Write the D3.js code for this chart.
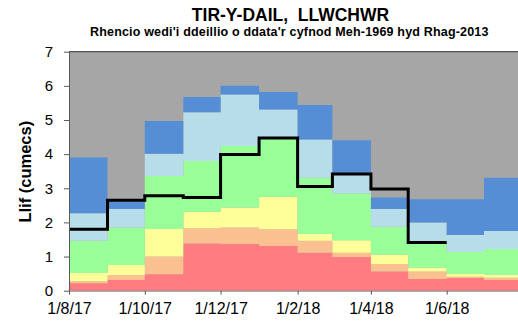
<!DOCTYPE html>
<html>
<head>
<meta charset="utf-8">
<script src="https://cdn.jsdelivr.net/npm/d3@7"></script>
<style>
  html, body { margin: 0; padding: 0; background: #fff; }
  svg { display: block; font-family: Arial, "Liberation Sans", sans-serif; }
</style>
</head>
<body>
<svg id="chart" width="518" height="321"></svg>
<script>
// Monthly flow bands (upper limit of each band, cumecs), Aug 2017 - Jul 2018
const months = ["2017-08","2017-09","2017-10","2017-11","2017-12","2018-01",
                "2018-02","2018-03","2018-04","2018-05","2018-06","2018-07"];
const bandRed    = [0.22, 0.31, 0.48, 1.38, 1.37, 1.31, 1.11, 0.99, 0.56, 0.34, 0.37, 0.31];
const bandSalmon = [0.28, 0.46, 1.00, 1.83, 1.85, 1.80, 1.46, 1.11, 0.78, 0.56, 0.41, 0.38];
const bandYellow = [0.52, 0.75, 1.81, 2.31, 2.44, 2.75, 1.66, 1.48, 1.05, 0.68, 0.49, 0.46];
const bandGreen  = [1.46, 1.85, 3.36, 3.80, 4.24, 4.45, 3.31, 2.85, 1.87, 1.40, 1.13, 1.22];
const bandLBlue  = [2.27, 2.39, 4.01, 5.23, 5.75, 5.31, 4.43, 3.40, 2.39, 2.00, 1.63, 1.75];
const bandBlue   = [3.90, 2.61, 4.97, 5.67, 6.00, 5.82, 5.44, 4.41, 2.73, 2.68, 2.68, 3.31];

// Observed monthly mean flow, Aug 2017 - May 2018
const flowMonths = months.slice(0, 10);
const flowValues = [1.80, 2.65, 2.78, 2.73, 3.99, 4.47, 3.05, 3.42, 2.98, 1.41];

const yTicks = [0, 1, 2, 3, 4, 5, 6, 7];
const xTickDates = ["2017-08-01","2017-10-01","2017-12-01","2018-02-01","2018-04-01","2018-06-01"];

const bandColors = ["#FF7C80", "#FAC090", "#FFFF99", "#99FF99", "#B7DDE8", "#558ED5"];
const bands = [bandRed, bandSalmon, bandYellow, bandGreen, bandLBlue, bandBlue];

const svg = d3.select("#chart");
const W = 518;
const plot = { left: 69, top: 51.7, bottom: 290.7 };

const parseMonth = s => { const [y, m] = s.split("-").map(Number); return new Date(Date.UTC(y, m - 1, 1)); };
const parseDay = s => { const [y, m, d] = s.split("-").map(Number); return new Date(Date.UTC(y, m - 1, d)); };

const start = parseMonth(months[0]);
const end = d3.utcMonth.offset(parseMonth(months[months.length - 1]), 1);

const x = d3.scaleUtc().domain([start, end]).range([plot.left, 522.5]);
const y = d3.scaleLinear().domain([0, 7]).range([plot.bottom, plot.top]);

// grey background band (above all ranks)
svg.append("rect")
  .attr("x", x(start)).attr("y", y(7))
  .attr("width", W - x(start)).attr("height", y(0) - y(7))
  .attr("fill", "#A6A6A6");

// stacked step bands
const monthDates = months.map(parseMonth).concat([end]);
bands.forEach((band, i) => {
  const lower = i === 0 ? months.map(() => 0) : bands[i - 1];
  const pts = monthDates.map((d, j) => {
    const k = Math.min(j, months.length - 1);
    return { d, y0: lower[k], y1: band[k] };
  });
  const area = d3.area()
    .curve(d3.curveStepAfter)
    .x(p => x(p.d))
    .y0(p => y(p.y0))
    .y1(p => y(p.y1));
  svg.append("path").datum(pts).attr("d", area).attr("fill", bandColors[i]);
});

// observed flow step line
const flowDates = flowMonths.map(parseMonth);
const flowEnd = d3.utcMonth.offset(flowDates[flowDates.length - 1], 1);
const flowPts = flowDates.map((d, j) => ({ d, v: flowValues[j] }))
  .concat([{ d: flowEnd, v: flowValues[flowValues.length - 1] }]);
svg.append("path").datum(flowPts)
  .attr("d", d3.line().curve(d3.curveStepAfter).x(p => x(p.d)).y(p => y(p.v)))
  .attr("fill", "none").attr("stroke", "#000").attr("stroke-width", 3)
  .attr("stroke-linejoin", "miter");

// top border of plot
svg.append("line")
  .attr("x1", x(start)).attr("x2", W)
  .attr("y1", y(7)).attr("y2", y(7))
  .attr("stroke", "#333").attr("stroke-width", 1);

// axes
const yAxis = d3.axisLeft(y).tickValues(yTicks).tickFormat(d3.format("d"))
  .tickSize(5).tickSizeOuter(0).tickPadding(11);
const gy = svg.append("g").attr("transform", `translate(${plot.left},0)`).call(yAxis);
gy.select(".domain").attr("stroke", "#595959");
gy.selectAll(".tick line").attr("stroke", "#595959");
gy.selectAll("text").attr("font-size", 15).attr("fill", "#000")
  .attr("font-family", "Arial, 'Liberation Sans', sans-serif");

const fmt = d3.utcFormat("%-d/%-m/%y");
const xAxis = d3.axisBottom(x).tickValues(xTickDates.map(parseDay)).tickFormat(fmt)
  .tickSize(4).tickSizeOuter(0).tickPadding(7.5);
const gx = svg.append("g").attr("transform", `translate(0,${plot.bottom})`).call(xAxis);
gx.select(".domain").attr("stroke", "#868686");
gx.selectAll(".tick line").attr("stroke", "#595959");
gx.selectAll("text").attr("font-size", 16).attr("fill", "#000")
  .attr("font-family", "Arial, 'Liberation Sans', sans-serif");

// titles
svg.append("text")
  .attr("x", 290.5).attr("y", 21).attr("text-anchor", "middle")
  .attr("font-size", 17.5).attr("font-weight", "bold")
  .style("white-space", "pre")
  .text("TIR-Y-DAIL,  LLWCHWR");
svg.append("text")
  .attr("x", 289.3).attr("y", 36).attr("text-anchor", "middle")
  .attr("font-size", 12.5).attr("font-weight", "bold")
  .attr("letter-spacing", 0.18)
  .text("Rhencio wedi'i ddeillio o ddata'r cyfnod Meh-1969 hyd Rhag-2013");

svg.append("text")
  .attr("transform", "translate(30.7,171.7) rotate(-90)")
  .attr("text-anchor", "middle")
  .attr("font-size", 16.5).attr("font-weight", "bold")
  .text("Llif (cumecs)");
</script>
</body>
</html>
